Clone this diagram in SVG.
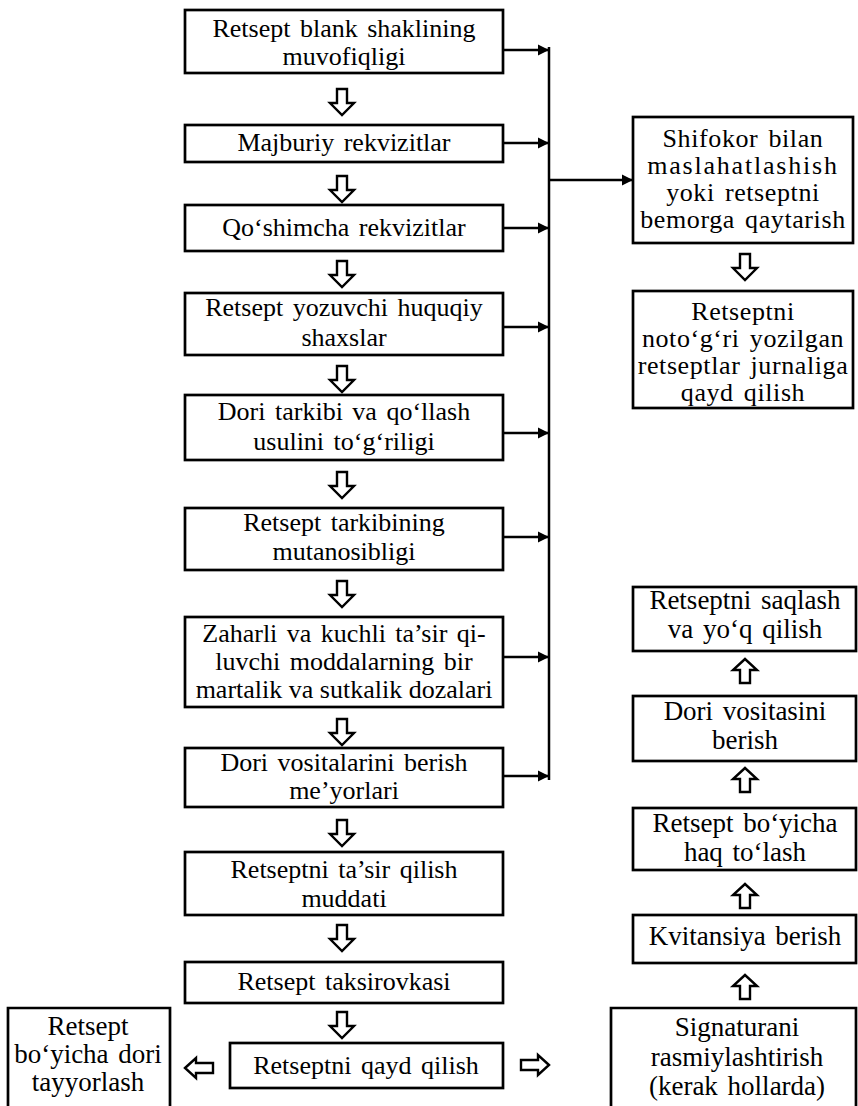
<svg xmlns="http://www.w3.org/2000/svg" xmlns:xlink="http://www.w3.org/1999/xlink" width="858" height="1106" viewBox="0 0 858 1106">
<style>
  .box { fill: #ffffff; stroke: #000000; stroke-width: 2.7; }
  .t { font-family: "Liberation Serif", "Times New Roman", serif; font-size: 26px; fill: #000000; text-anchor: middle; word-spacing: 3px; }
  .r { font-size: 27px; }
  .w { letter-spacing: 0.6px; }
  .ln { stroke: #000000; stroke-width: 2.5; fill: none; }
  .blk { fill: #ffffff; stroke: #000000; stroke-width: 2.4; stroke-linejoin: miter; }
</style>
<defs>
  <marker id="ah" viewBox="0 0 10 10" refX="10" refY="5" markerWidth="4.5" markerHeight="4.5" markerUnits="strokeWidth" orient="auto">
    <path d="M0,0 L10,5 L0,10 Z" fill="#000000"/>
  </marker>
  <path id="dn" class="blk" d="M-5,0 H5 V14 H12 L0,26 L-12,14 H-5 Z"/>
  <path id="up" class="blk" d="M0,0 L12,11 H5 V24 H-5 V11 H-12 Z"/>
  <path id="lt" class="blk" d="M0,0 L11,-10 V-5 H28 V5 H11 V10 Z"/>
  <path id="rt" class="blk" d="M28,0 L17,-10 V-5 H0 V5 H17 V10 Z"/>
</defs>
<rect width="858" height="1106" fill="#ffffff"/>

<g id="connectors">
  <line class="ln" x1="549" y1="47" x2="549" y2="780"/>
  <line class="ln" x1="503" y1="50" x2="549" y2="50" marker-end="url(#ah)"/>
  <line class="ln" x1="503" y1="143" x2="549" y2="143" marker-end="url(#ah)"/>
  <line class="ln" x1="503" y1="228" x2="549" y2="228" marker-end="url(#ah)"/>
  <line class="ln" x1="503" y1="327" x2="549" y2="327" marker-end="url(#ah)"/>
  <line class="ln" x1="503" y1="433" x2="549" y2="433" marker-end="url(#ah)"/>
  <line class="ln" x1="503" y1="537" x2="549" y2="537" marker-end="url(#ah)"/>
  <line class="ln" x1="503" y1="657" x2="549" y2="657" marker-end="url(#ah)"/>
  <line class="ln" x1="503" y1="776" x2="549" y2="776" marker-end="url(#ah)"/>
  <line class="ln" x1="549" y1="180" x2="633" y2="180" marker-end="url(#ah)"/>
  <use xlink:href="#dn" x="342" y="89"/>
  <use xlink:href="#dn" x="342" y="176"/>
  <use xlink:href="#dn" x="342" y="261"/>
  <use xlink:href="#dn" x="342" y="366"/>
  <use xlink:href="#dn" x="342" y="472"/>
  <use xlink:href="#dn" x="342" y="581"/>
  <use xlink:href="#dn" x="342" y="719"/>
  <use xlink:href="#dn" x="342" y="820"/>
  <use xlink:href="#dn" x="342" y="925"/>
  <use xlink:href="#dn" x="342" y="1012"/>
  <use xlink:href="#dn" x="745" y="254"/>
  <use xlink:href="#up" x="745" y="659"/>
  <use xlink:href="#up" x="745" y="768"/>
  <use xlink:href="#up" x="745" y="884"/>
  <use xlink:href="#up" x="745" y="975"/>
  <use xlink:href="#lt" x="185" y="1068"/>
  <use xlink:href="#rt" x="521" y="1065"/>
</g>

<g id="n1"><rect class="box" x="185" y="10" width="318" height="63"/>
  <text class="t" x="344" y="37">Retsept blank shaklining</text>
  <text class="t" x="344" y="65">muvofiqligi</text></g>
<g id="n2"><rect class="box" x="185" y="125" width="318" height="37"/>
  <text class="t" x="344" y="151">Majburiy rekvizitlar</text></g>
<g id="n3"><rect class="box" x="185" y="205" width="318" height="46"/>
  <text class="t" x="344" y="236">Qo‘shimcha rekvizitlar</text></g>
<g id="n4"><rect class="box" x="185" y="293" width="318" height="62"/>
  <text class="t" x="344" y="316">Retsept yozuvchi huquqiy</text>
  <text class="t" x="344" y="346">shaxslar</text></g>
<g id="n5"><rect class="box" x="185" y="395" width="318" height="65"/>
  <text class="t" x="344" y="420">Dori tarkibi va qo‘llash</text>
  <text class="t" x="344" y="450">usulini to‘g‘riligi</text></g>
<g id="n6"><rect class="box" x="185" y="508" width="318" height="62"/>
  <text class="t" x="344" y="531">Retsept tarkibining</text>
  <text class="t" x="344" y="560">mutanosibligi</text></g>
<g id="n7"><rect class="box" x="185" y="617" width="318" height="90"/>
  <text class="t" x="344" y="642">Zaharli va kuchli ta’sir qi-</text>
  <text class="t" x="344" y="670">luvchi moddalarning bir</text>
  <text class="t" x="344" y="698" style="word-spacing:0px">martalik va sutkalik dozalari</text></g>
<g id="n8"><rect class="box" x="185" y="748" width="318" height="59"/>
  <text class="t" x="344" y="771">Dori vositalarini berish</text>
  <text class="t" x="344" y="799">me’yorlari</text></g>
<g id="n9"><rect class="box" x="185" y="852" width="318" height="63"/>
  <text class="t" x="344" y="878">Retseptni ta’sir qilish</text>
  <text class="t" x="344" y="907">muddati</text></g>
<g id="n10"><rect class="box" x="185" y="962" width="318" height="41"/>
  <text class="t" x="344" y="990">Retsept taksirovkasi</text></g>
<g id="n11"><rect class="box" x="230" y="1043" width="273" height="45"/>
  <text class="t" x="366" y="1074">Retseptni qayd qilish</text></g>
<g id="n12"><path class="box" d="M8,1110 V1008 H170 V1110"/>
  <text class="t r" x="88" y="1035">Retsept</text>
  <text class="t r" x="88" y="1063">bo‘yicha dori</text>
  <text class="t r" x="88" y="1091">tayyorlash</text></g>

<g id="r1"><rect class="box" x="633" y="117" width="220" height="126"/>
  <text class="t w" x="743" y="147">Shifokor bilan</text>
  <text class="t" x="743" y="174" style="letter-spacing:1.8px">maslahatlashish</text>
  <text class="t w" x="743" y="201">yoki retseptni</text>
  <text class="t w" x="743" y="228">bemorga qaytarish</text></g>
<g id="r2"><rect class="box" x="633" y="291" width="220" height="117"/>
  <text class="t w" x="743" y="320">Retseptni</text>
  <text class="t w" x="743" y="347">noto‘g‘ri yozilgan</text>
  <text class="t w" x="743" y="374">retseptlar jurnaliga</text>
  <text class="t w" x="743" y="401">qayd qilish</text></g>
<g id="r3"><rect class="box" x="633" y="587" width="223" height="64"/>
  <text class="t r" x="745" y="609">Retseptni saqlash</text>
  <text class="t r" x="745" y="638">va yo‘q qilish</text></g>
<g id="r4"><rect class="box" x="633" y="696" width="223" height="65"/>
  <text class="t r" x="745" y="720">Dori vositasini</text>
  <text class="t r" x="745" y="749">berish</text></g>
<g id="r5"><rect class="box" x="633" y="808" width="223" height="62"/>
  <text class="t r" x="745" y="832">Retsept bo‘yicha</text>
  <text class="t r" x="745" y="861">haq to‘lash</text></g>
<g id="r6"><rect class="box" x="633" y="915" width="223" height="48"/>
  <text class="t r" x="745" y="945">Kvitansiya berish</text></g>
<g id="r7"><path class="box" d="M611,1110 V1008 H856 V1110"/>
  <text class="t r" x="737" y="1036">Signaturani</text>
  <text class="t r" x="737" y="1066">rasmiylashtirish</text>
  <text class="t r" x="737" y="1095">(kerak hollarda)</text></g>
</svg>
